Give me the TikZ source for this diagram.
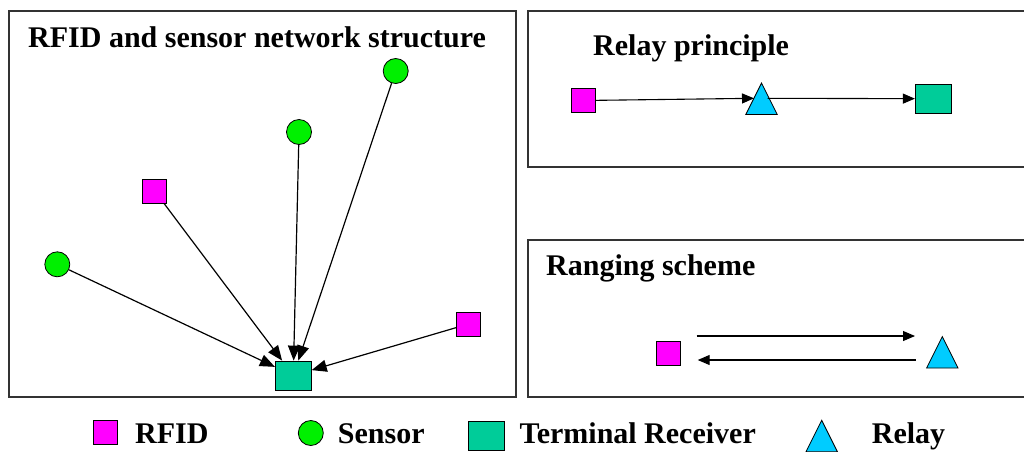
\documentclass[tikz,border=0pt]{standalone}
\usepackage{fontspec}
\setmainfont{Liberation Serif}
\usetikzlibrary{arrows.meta,calc}
\definecolor{rfidc}{HTML}{FF00FF}
\definecolor{sensc}{HTML}{00F000}
\definecolor{termc}{HTML}{00CC99}
\definecolor{relc}{HTML}{00CCFF}
\begin{document}
\begin{tikzpicture}[x=1pt,y=-1pt,
 rfid/.style={draw=black,fill=rfidc,line width=0.8pt,minimum size=24pt,inner sep=0pt,rectangle},
 sensor/.style={draw=black,fill=sensc,circle,minimum size=25pt,inner sep=0pt,line width=0.8pt},
 term/.style={draw=black,fill=termc,rectangle,minimum width=36pt,minimum height=29pt,inner sep=0pt,line width=0.8pt},
 trih/.style={rectangle,minimum width=31pt,minimum height=31pt,inner sep=0pt},
 tri/.style={draw=black,fill=relc,line width=0.8pt,line join=miter},
 panel/.style={draw=black!80,line width=1.2pt},
 arr/.style={line width=1.2pt,-{Triangle[length=15pt,width=12pt]}},
 arrs/.style={line width=1.1pt,-{Triangle[length=12pt,width=10pt]}},
 title/.style={anchor=base west,inner sep=0pt,font=\fontsize{30}{33}\selectfont\bfseries},
]
\useasboundingbox (0,0) rectangle (1024,451);
\fill[white] (0,0) rectangle (1024,451);
% panels
\draw[panel] (9,11) rectangle (516,397);
\draw[panel] (528,11) rectangle (1040,167);
\draw[panel] (528,240) rectangle (1040,397);
% titles
\node[title] (t1) at (28,47) {RFID and sensor network structure};
\node[title] (t2) at (593,55) {Relay principle};
\node[title] (t3) at (546,275) {Ranging scheme};
% left panel
\node[term] (recv) at (293.3,375.5) {};
\node[sensor] (s1) at (395.7,71) {};
\node[sensor] (s2) at (299,132) {};
\node[rfid] (r1) at (154.7,191) {};
\node[sensor] (s3) at (57.3,264.3) {};
\node[rfid] (r2) at (468.5,324) {};
\draw[arr] (s3) -- (recv);
\draw[arr] (r1) -- (recv);
\draw[arr] (s2) -- (recv);
\draw[arr] (s1) -- (recv);
\draw[arr] (r2) -- (recv);
% relay principle
\node[rfid] (pr) at (583.3,100.5) {};
\node[trih] (ptri) at (761.5,98.8) {};
\draw[tri] (ptri.south west) -- (ptri.south east) -- (ptri.north) -- cycle;
\node[term] (pterm) at (933.3,98.7) {};
\draw[arrs] (pr) -- ($(ptri.center)+(-7.5,-0.5)$);
\draw[arrs] ($(ptri.center)+(6,-0.5)$) -- (pterm);
% ranging scheme
\node[rfid] (gr) at (668,353) {};
\node[trih] (gtri) at (942.3,352.3) {};
\draw[tri] (gtri.south west) -- (gtri.south east) -- (gtri.north) -- cycle;
\coordinate (ga1) at (696.7,336);
\coordinate (ga2) at (915,336);
\coordinate (gb1) at (915.7,360);
\coordinate (gb2) at (697.7,360);
\draw[arrs] (ga1) -- (ga2);
\draw[arrs] (gb1) -- (gb2);
% legend
\node[rfid] (lr) at (105.5,432) {};
\node[title] (lrt) at (135,443.5) {RFID};
\node[sensor] (ls) at (310.8,433) {};
\node[title] (lst) at (337.7,443.5) {Sensor};
\node[term] (lt) at (486,435.5) {};
\node[title] (ltt) at (519.3,443.5) {Terminal Receiver};
\node[trih] (ltri) at (821.7,436) {};
\draw[tri] (ltri.south west) -- (ltri.south east) -- (ltri.north) -- cycle;
\node[title] (lrlt) at (871.7,443.5) {Relay};
\end{tikzpicture}
\end{document}
